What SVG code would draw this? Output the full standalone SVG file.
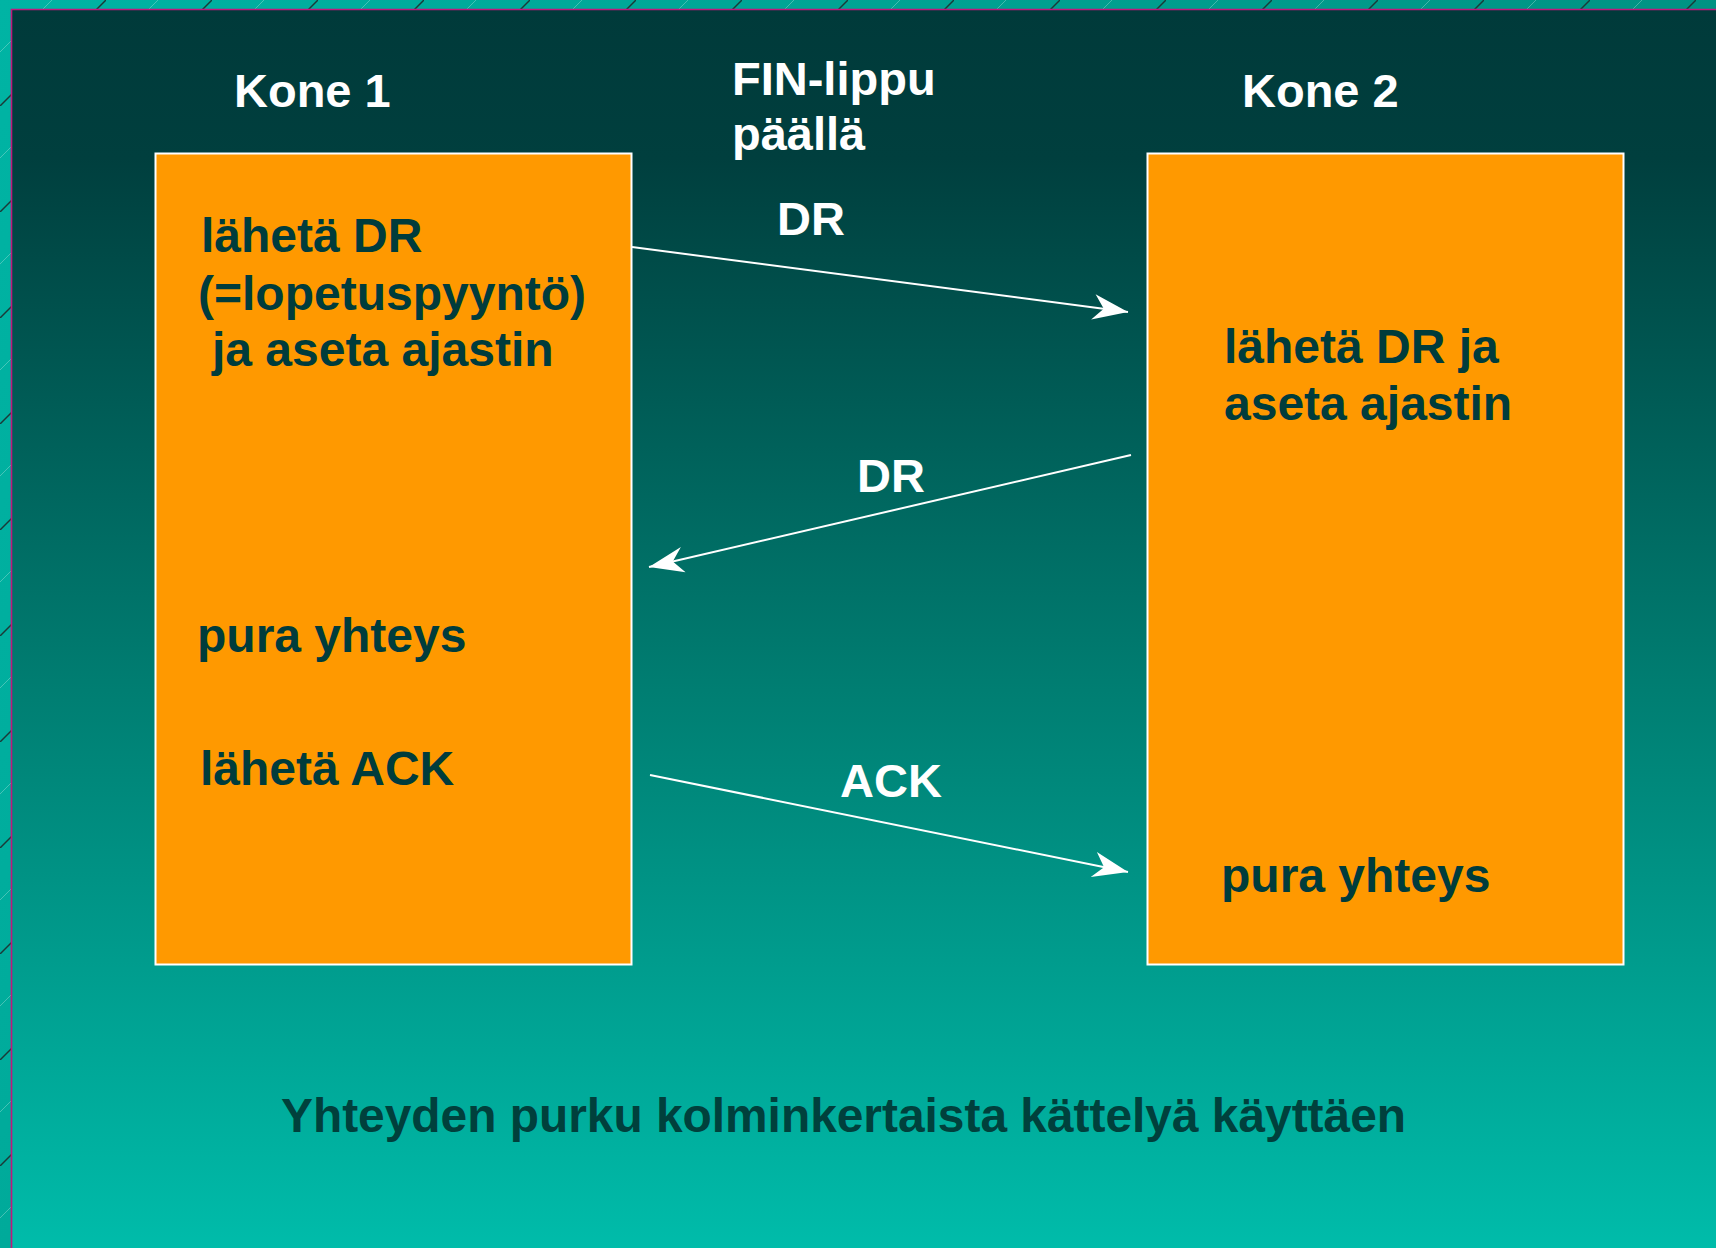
<svg xmlns="http://www.w3.org/2000/svg" width="1716" height="1248" viewBox="0 0 1716 1248">
<defs>
<linearGradient id="bg" x1="0" y1="0" x2="0" y2="1">
<stop offset="0" stop-color="#003a3a"/>
<stop offset="0.12" stop-color="#003f3e"/>
<stop offset="0.55" stop-color="#007e72"/>
<stop offset="1" stop-color="#00bcaa"/>
</linearGradient>
<linearGradient id="strip" x1="0" y1="0" x2="1" y2="0.3">
<stop offset="0" stop-color="#00b4a4"/>
<stop offset="1" stop-color="#009080"/>
</linearGradient>
<pattern id="hatch" patternUnits="userSpaceOnUse" width="106" height="106">
<line x1="-6" y1="112" x2="112" y2="-6" stroke="#1a3a38" stroke-width="1.5"/>
<line x1="-60" y1="112" x2="58" y2="-6" stroke="#bfe8e0" stroke-width="0.6" opacity="0.6"/>
<line x1="46" y1="112" x2="164" y2="-6" stroke="#bfe8e0" stroke-width="0.6" opacity="0.6"/>
</pattern>
<marker id="ah" markerUnits="userSpaceOnUse" markerWidth="40" markerHeight="30" viewBox="-33 -13 36 26" refX="0" refY="0" orient="auto">
<path d="M0,0 L-31,-12 L-22,0 L-32,11 Z" fill="#ffffff"/>
</marker>
<style>
.box{fill:#ff9900;stroke:#ffffff;stroke-width:2}
.w{font-family:"Liberation Sans",Arial,sans-serif;font-weight:bold;font-size:47px;fill:#ffffff}
.d{font-family:"Liberation Sans",Arial,sans-serif;font-weight:bold;font-size:48px;fill:#003c3c}
.cap{font-family:"Liberation Sans",Arial,sans-serif;font-weight:bold;font-size:48px;fill:#00403c}
.conn{stroke:#ffffff;stroke-width:2;fill:none;marker-end:url(#ah)}
</style>
</defs>
<rect x="0" y="0" width="1716" height="1248" fill="url(#strip)"/>
<rect x="0" y="0" width="1716" height="1248" fill="url(#hatch)"/>
<rect x="11" y="9" width="1705" height="1239" fill="url(#bg)"/>
<path d="M11.5,1248 V9.5 H1716" fill="none" stroke="#c0187c" stroke-width="1.6"/>

<g id="kone1-label"><text class="w" x="234" y="107">Kone 1</text></g>
<g id="kone2-label"><text class="w" x="1242" y="107">Kone 2</text></g>
<g id="fin-label"><text class="w" x="732" y="95">FIN-lippu</text><text class="w" x="732" y="150">päällä</text></g>

<g id="kone1">
<rect class="box" x="155.5" y="153.5" width="476" height="811"/>
<text class="d" x="201" y="252">lähetä DR</text>
<text class="d" x="198" y="310">(=lopetuspyyntö)</text>
<text class="d" x="212" y="366"> ja aseta ajastin</text>
<text class="d" x="197" y="652">pura yhteys</text>
<text class="d" x="200" y="785">lähetä ACK</text>
</g>

<g id="kone2">
<rect class="box" x="1147.5" y="153.5" width="476" height="811"/>
<text class="d" x="1224" y="363">lähetä DR ja</text>
<text class="d" x="1224" y="420">aseta ajastin</text>
<text class="d" x="1221" y="892">pura yhteys</text>
</g>

<g id="connectors">
<line class="conn" x1="632" y1="247" x2="1128" y2="312"/>
<line class="conn" x1="1131" y1="455" x2="649" y2="567"/>
<line class="conn" x1="650" y1="775" x2="1128" y2="872"/>
<text class="w" x="777" y="235">DR</text>
<text class="w" x="857" y="492">DR</text>
<text class="w" x="840" y="797">ACK</text>
</g>

<g id="caption"><text class="cap" x="281" y="1132" textLength="1125" lengthAdjust="spacingAndGlyphs">Yhteyden purku kolminkertaista kättelyä käyttäen</text></g>
</svg>
